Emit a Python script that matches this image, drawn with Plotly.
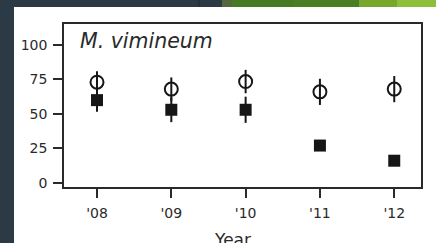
import plotly.graph_objects as go

years = [2008, 2009, 2010, 2011, 2012]
tick_labels = ["'08", "'09", "'10", "'11", "'12"]
open_mean = [73, 68, 73.5, 66, 68]
open_err = [8, 8.5, 8.5, 9.5, 9.5]
filled_mean = [60, 53, 53, 27, 16]
filled_err = [8.5, 9, 9.5, 3, 0]
y_ticks = [0, 25, 50, 75, 100]

INK = "#161616"
AX = "#2a2a2a"
FONT = "DejaVu Sans"

fig = go.Figure()
fig.add_trace(go.Scatter(
    x=years, y=filled_mean, mode="markers",
    marker=dict(symbol="square", size=12, color=INK),
    error_y=dict(type="data", array=filled_err, width=0, thickness=2, color=INK),
    showlegend=False,
))
fig.add_trace(go.Scatter(
    x=years, y=open_mean, mode="markers",
    marker=dict(symbol="circle-open", size=13, color=INK, line=dict(width=2, color=INK)),
    error_y=dict(type="data", array=open_err, width=0, thickness=2, color=INK),
    showlegend=False,
))

W, H = 436, 243
L, R, T, B = 64, 421, 24, 187
pw, ph = R - L, B - T

def px(x):
    return (x - L) / pw

def py(y):
    return (B - y) / ph

shapes = [
    dict(type="rect", xref="paper", yref="paper", x0=px(14), x1=px(440), y0=py(250), y1=py(7),
         fillcolor="white", line=dict(width=0), layer="below"),
]
strips = [(222, 232, "#56663f"), (232, 293, "#477a24"), (293, 359, "#4b7d23"),
          (359, 397, "#78a72b"), (397, 440, "#8dbf3b")]
for x0, x1, c in strips:
    shapes.append(dict(type="rect", xref="paper", yref="paper", x0=px(x0), x1=px(x1),
                       y0=py(7), y1=py(-3), fillcolor=c, line=dict(width=0), layer="below"))
shapes.append(dict(type="line", xref="paper", yref="paper", x0=px(199), x1=px(199),
                   y0=py(7), y1=py(-3), line=dict(color="#1e2b34", width=1), layer="below"))

fig.update_layout(
    width=W, height=H,
    margin=dict(l=L, r=W - R, t=T, b=H - B, pad=0),
    paper_bgcolor="#2b3a44",
    plot_bgcolor="white",
    font=dict(family=FONT, color=AX, size=14),
    shapes=shapes,
    annotations=[
        dict(text="<i>M. vimineum</i>", xref="paper", yref="paper", x=px(78), y=py(41),
             xanchor="left", yanchor="middle", showarrow=False,
             font=dict(family=FONT, size=20.5, color=AX)),
        dict(text="Year", xref="paper", yref="paper", x=px(232.5), y=py(240),
             xanchor="center", yanchor="middle", showarrow=False,
             font=dict(family=FONT, size=17, color=AX)),
    ],
)
fig.update_xaxes(
    range=[2007.556, 2012.36], tickvals=years, ticktext=tick_labels,
    ticks="outside", ticklen=9, tickwidth=1.5, tickcolor=AX,
    showline=True, linecolor=AX, linewidth=1.5, mirror=True,
    showgrid=False, zeroline=False, ticklabelstandoff=3,
    tickfont=dict(family=FONT, size=14, color=AX),
)
fig.update_yaxes(
    range=[-3.1, 115.3], tickvals=y_ticks,
    ticks="outside", ticklen=9, tickwidth=1.5, tickcolor=AX,
    showline=True, linecolor=AX, linewidth=1.5, mirror=True,
    showgrid=False, zeroline=False, ticklabelstandoff=3,
    tickfont=dict(family=FONT, size=14, color=AX),
)

fig.write_html(
    "out.html",
    config={"displayModeBar": False},
    post_script="document.body.style.margin='0';document.body.style.overflow='hidden';",
)
